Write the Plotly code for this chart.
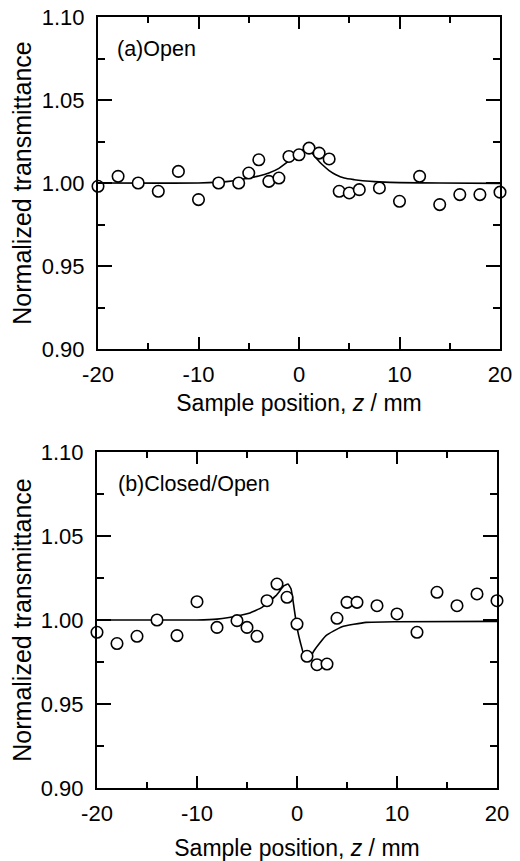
import plotly.graph_objects as go

# ---- data: panel (a) Open ----
z_open = [-20, -18, -16, -14, -12, -10, -8, -6, -5, -4, -3, -2, -1, 0, 1, 2, 3,
          4, 5, 6, 8, 10, 12, 14, 16, 18, 20]
t_open = [0.998, 1.004, 1.000, 0.995, 1.007, 0.990, 1.000, 1.000, 1.006, 1.014,
          1.001, 1.003, 1.016, 1.017, 1.021, 1.018, 1.0145, 0.995, 0.994, 0.996,
          0.997, 0.989, 1.004, 0.987, 0.993, 0.993, 0.9945]
# fitted curve (a)
zfit_open = [-20, -10, -8, -7, -6, -5, -4, -3, -2, -1.5, -1, -0.33, 0, 0.5, 0.85,
             1.33, 2, 2.33, 3, 3.67, 4.5, 5.5, 6.33, 8, 10, 14, 20]
tfit_open = [1.000, 1.000, 1.0005, 1.001, 1.0018, 1.003, 1.0042, 1.006, 1.0088,
             1.011, 1.0135, 1.017, 1.0185, 1.0205, 1.0215, 1.018, 1.013, 1.011,
             1.0075, 1.005, 1.003, 1.002, 1.0014, 1.0007, 1.0002, 1.000, 0.9998]

# ---- data: panel (b) Closed/Open ----
z_closed = [-20, -18, -16, -14, -12, -10, -8, -6, -5, -4, -3, -2, -1, 0, 1, 2, 3,
            4, 5, 6, 8, 10, 12, 14, 16, 18, 20]
t_closed = [0.9927, 0.986, 0.9903, 1.000, 0.9907, 1.0109, 0.9956, 0.9996, 0.9956,
            0.9903, 1.0115, 1.0214, 1.0135, 0.9976, 0.9784, 0.9734, 0.9738, 1.001,
            1.0105, 1.0105, 1.0085, 1.0036, 0.9927, 1.0165, 1.0085, 1.0155, 1.0115]
zfit_closed = [-20, -10, -8, -6.8, -4.8, -3.5, -2.1, -1.3, -0.9, -0.6, -0.3, 0,
               0.37, 0.8, 1.1, 1.7, 2.9, 4.5, 6.9, 10, 20]
tfit_closed = [1.000, 1.000, 1.0005, 1.0015, 1.004, 1.0075, 1.0145, 1.0204, 1.0214,
               1.0186, 1.0075, 0.9955, 0.9859, 0.977, 0.9755, 0.9817, 0.9907,
               0.996, 0.9986, 0.9990, 0.9992]

x_ticks = [-20, -10, 0, 10, 20]
y_ticks = [0.90, 0.95, 1.00, 1.05, 1.10]
x_title = "Sample position, <i>z</i> / mm"
y_title = "Normalized transmittance"
labels = ["(a)Open", "(b)Closed/Open"]

FONT = "Liberation Sans, Arial, Helvetica, sans-serif"
# the page body adds an 8px margin, so the figure is 8px smaller each way
W, H = 512, 853

fig = go.Figure()
marker = dict(symbol="circle", size=11.5, color="white",
              line=dict(color="black", width=1.6))

fig.add_trace(go.Scatter(x=zfit_open, y=tfit_open, mode="lines",
                         line=dict(color="black", width=1.6, shape="spline", smoothing=0.6),
                         xaxis="x", yaxis="y", showlegend=False))
fig.add_trace(go.Scatter(x=z_open, y=t_open, mode="markers", marker=marker,
                         cliponaxis=False, xaxis="x", yaxis="y", showlegend=False))
fig.add_trace(go.Scatter(x=zfit_closed, y=tfit_closed, mode="lines",
                         line=dict(color="black", width=1.6, shape="spline", smoothing=0.4),
                         xaxis="x2", yaxis="y2", showlegend=False))
fig.add_trace(go.Scatter(x=z_closed, y=t_closed, mode="markers", marker=marker,
                         cliponaxis=False, xaxis="x2", yaxis="y2", showlegend=False))


def xax(domain, anchor, standoff):
    return dict(domain=domain, anchor=anchor, range=[-20, 20], automargin=False,
                tickvals=x_ticks, ticktext=[str(v) for v in x_ticks],
                ticks="inside", ticklen=12, tickwidth=1.6, tickcolor="black",
                minor=dict(ticks="inside", ticklen=6, tickwidth=1.6,
                           tickcolor="black", tickvals=[-15, -5, 5, 15]),
                showline=True, linecolor="black", linewidth=2, mirror="allticks",
                showgrid=False, zeroline=False, ticklabelstandoff=5,
                ticklabeloverflow="allow",
                tickfont=dict(family=FONT, size=22, color="black"),
                title=dict(text=x_title, standoff=standoff,
                           font=dict(family=FONT, size=23, color="black")))


def yax(domain, anchor):
    return dict(domain=domain, anchor=anchor, range=[0.90, 1.10], automargin=False,
                tickvals=y_ticks, ticktext=["%.2f" % v for v in y_ticks],
                ticks="inside", ticklen=14, tickwidth=1.6, tickcolor="black",
                minor=dict(ticks="inside", ticklen=7, tickwidth=1.6,
                           tickcolor="black", tickvals=[0.925, 0.975, 1.025, 1.075]),
                showline=True, linecolor="black", linewidth=2, mirror="allticks",
                showgrid=False, zeroline=False, ticklabelstandoff=7,
                ticklabeloverflow="allow",
                tickfont=dict(family=FONT, size=22, color="black"),
                title=dict(text=y_title, standoff=10,
                           font=dict(family=FONT, size=25, color="black")))


top_y = [1 - 341 / H, 1 - 9 / H]
bot_y = [1 - 780 / H, 1 - 444 / H]

fig.update_layout(
    width=W, height=H,
    margin=dict(l=0, r=0, t=0, b=0, autoexpand=False),
    paper_bgcolor="white", plot_bgcolor="white",
    xaxis=xax([90 / W, 492 / W], "y", 8),
    yaxis=yax(top_y, "x"),
    xaxis2=xax([89 / W, 489 / W], "y2", 25),
    yaxis2=yax(bot_y, "x2"),
    annotations=[
        dict(text=labels[0], x=-18.3, y=1.081, xref="x", yref="y",
             xanchor="left", yanchor="middle", showarrow=False,
             font=dict(family=FONT, size=21.5, color="black")),
        dict(text=labels[1], x=-18.1, y=1.081, xref="x2", yref="y2",
             xanchor="left", yanchor="middle", showarrow=False,
             font=dict(family=FONT, size=21.5, color="black")),
    ],
)

fig.write_html("out.html")
